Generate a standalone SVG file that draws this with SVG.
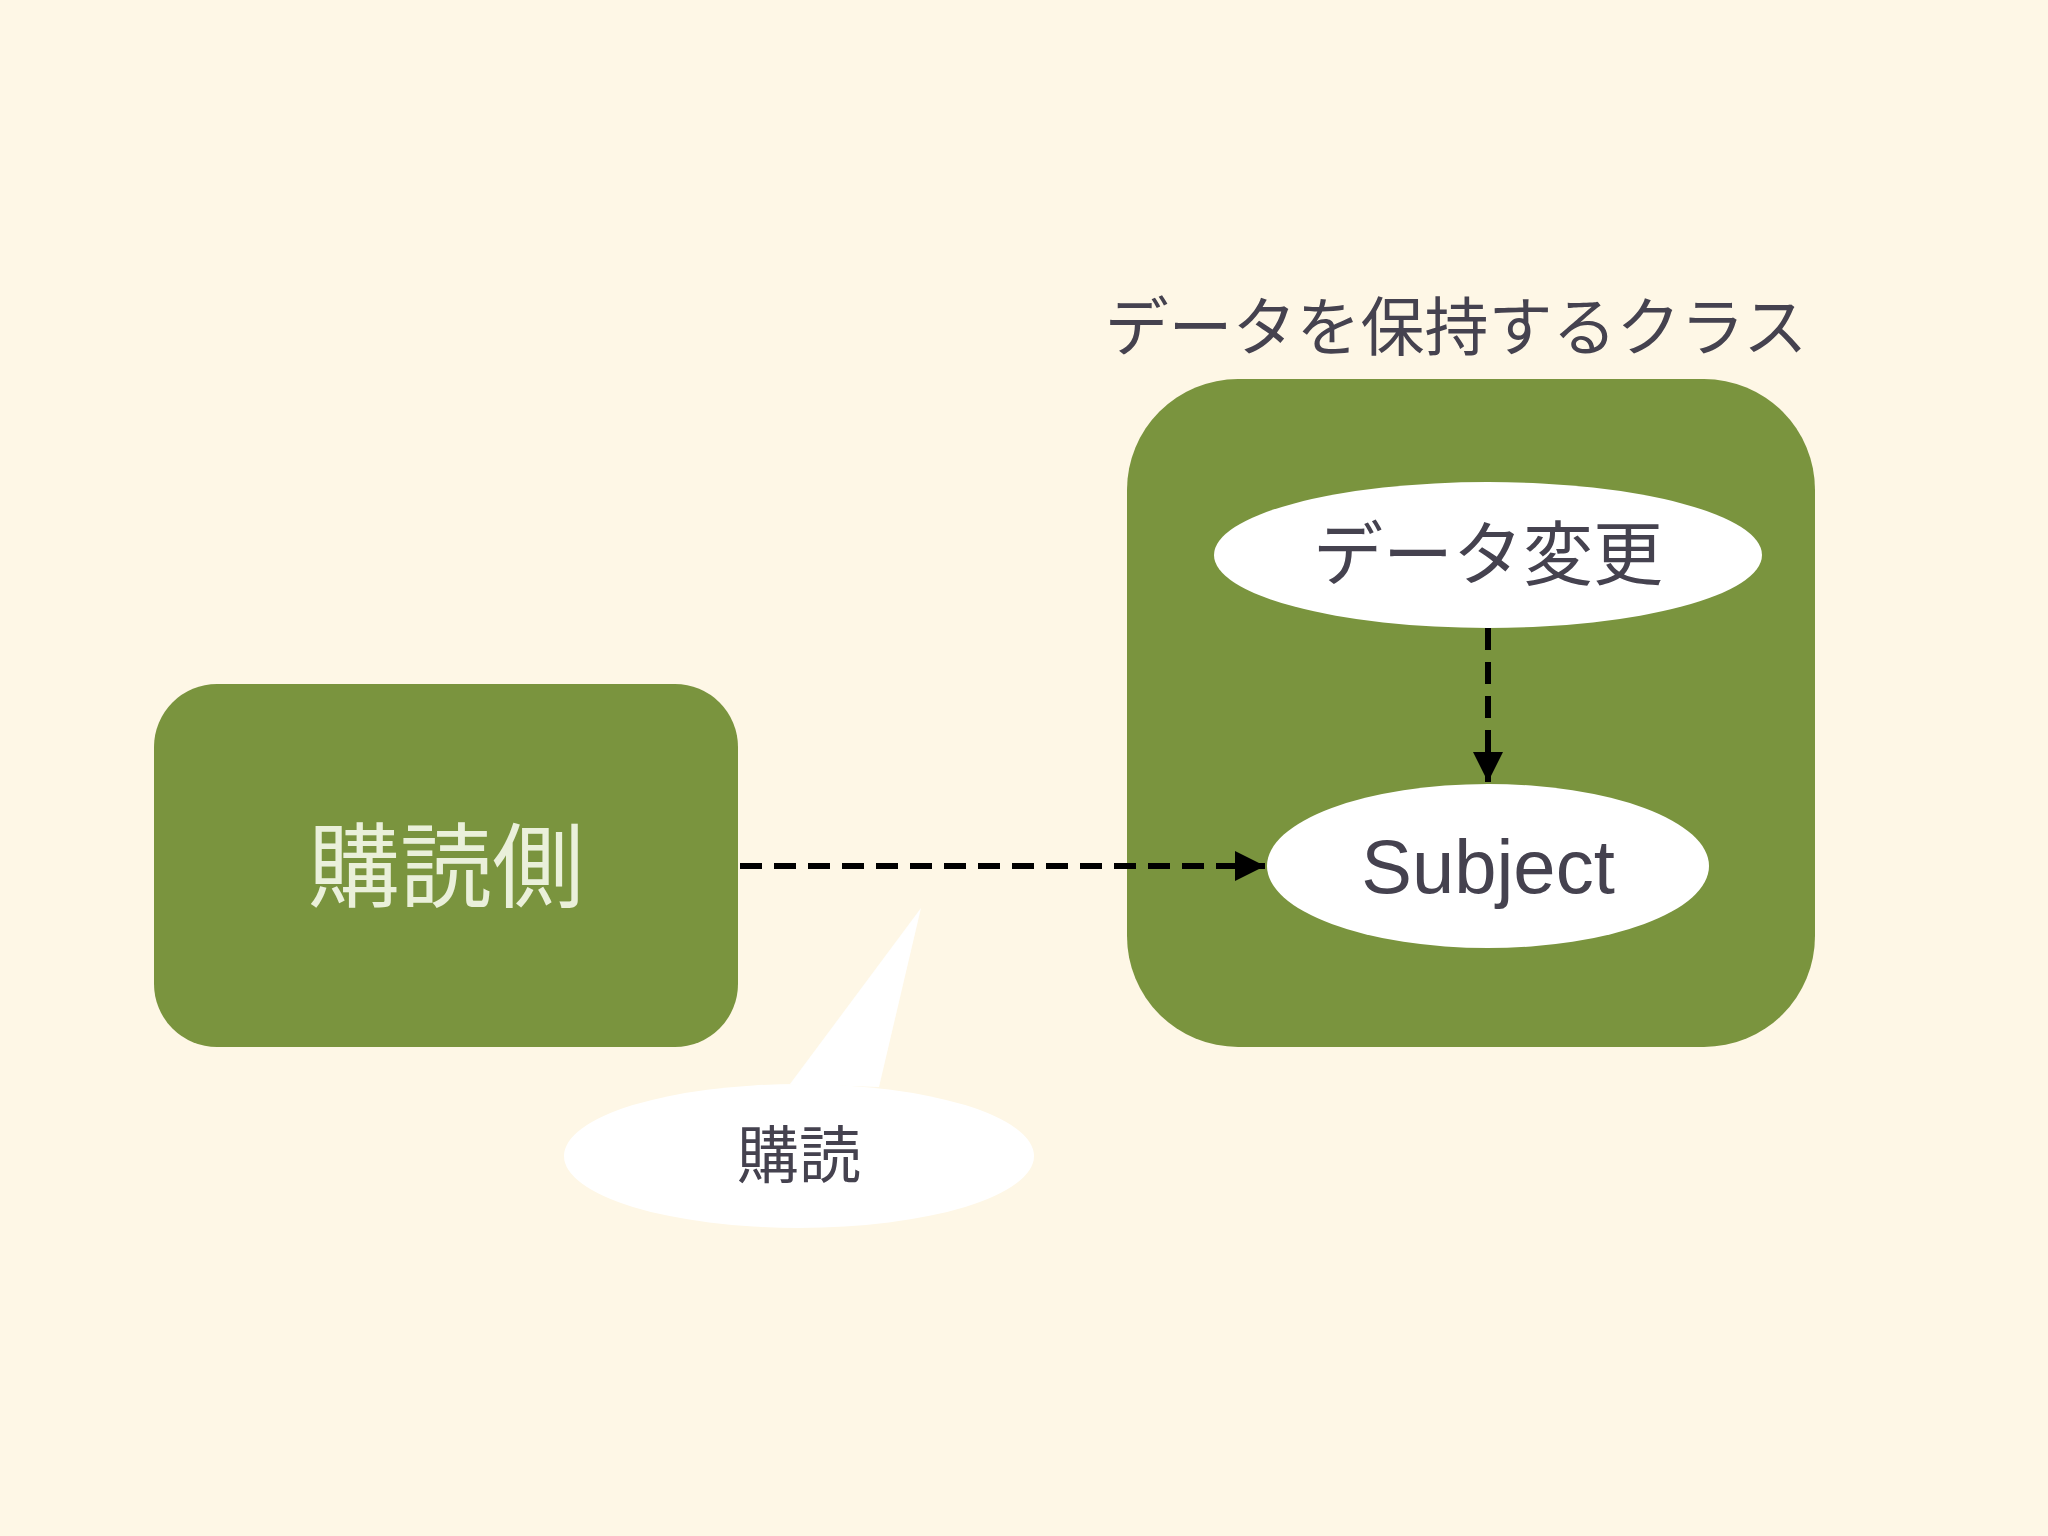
<svg xmlns="http://www.w3.org/2000/svg" width="2048" height="1536" viewBox="0 0 2048 1536">
<defs>
<style>
.box{fill:#7A943E}
.ell{fill:#FFFFFF}
.t{font-family:"Liberation Sans","Noto Sans CJK JP",sans-serif;text-anchor:middle;fill:#45424F}
.dash{stroke:#000;stroke-width:6;stroke-dasharray:22,12;fill:none}
</style>
<marker id="ah" viewBox="0 0 10 10" refX="10" refY="5" markerWidth="5" markerHeight="5" orient="auto" markerUnits="strokeWidth"><path d="M0,0 L10,5 L0,10 z" fill="#000"/></marker>
</defs>
<rect width="2048" height="1536" fill="#FEF7E6"/>
<g id="title"><text class="t" x="1456" y="350" font-size="64">データを保持するクラス</text></g>
<g id="holder"><rect class="box" x="1127" y="379" width="688" height="668" rx="111"/></g>
<g id="subscriber"><rect class="box" x="154" y="684" width="584" height="363" rx="63"/>
<text class="t" x="446" y="900" font-size="92" style="fill:#EAF0DA">購読側</text></g>
<g id="datachange"><ellipse class="ell" cx="1488" cy="555" rx="274" ry="73"/>
<text class="t" x="1488" y="580" font-size="70">データ変更</text></g>
<g id="subject"><ellipse class="ell" cx="1488" cy="866" rx="221" ry="82"/>
<text class="t" x="1488" y="893" font-size="76">Subject</text></g>
<g id="connectors">
<line class="dash" x1="1488" y1="628" x2="1488" y2="782" marker-end="url(#ah)"/>
<line class="dash" x1="740" y1="866" x2="1265" y2="866" marker-end="url(#ah)"/>
</g>
<g id="callout"><path class="ell" d="M790,1084 L921,908 L879,1087 Z"/>
<ellipse class="ell" cx="799" cy="1156" rx="235" ry="72"/>
<text class="t" x="799" y="1178" font-size="62">購読</text></g>
</svg>
